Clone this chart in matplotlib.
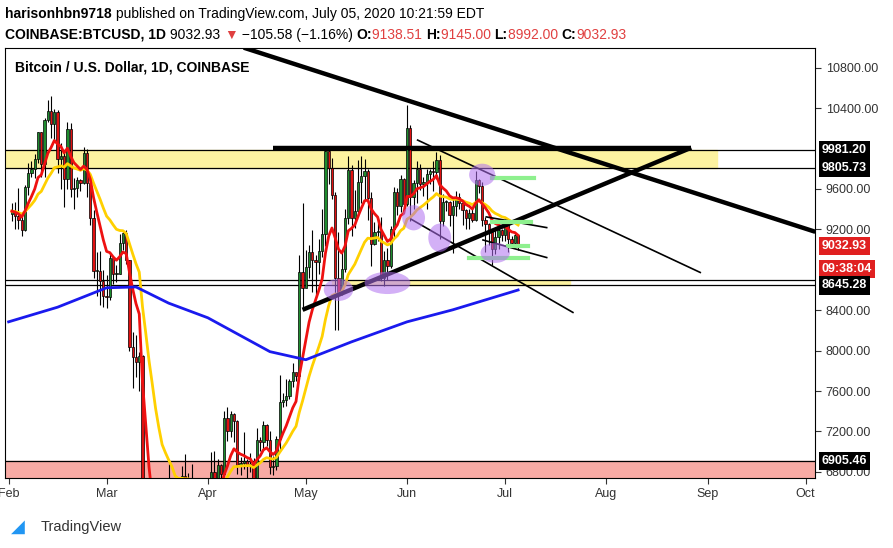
import numpy as np
import pandas as pd
import matplotlib
matplotlib.use("Agg")
import matplotlib.pyplot as plt
import matplotlib.dates as mdates
from matplotlib.patches import Ellipse, Rectangle

plt.rcParams['font.family'] = ['Liberation Sans Narrow', 'Liberation Sans', 'DejaVu Sans']

# daily closes / highs / lows, Feb 1 - Jul 5 2020
closes = [9380, 9330, 9290, 9190, 9620, 9760, 9800, 9900, 10160, 9850, 10280, 10370, 10240, 10360, 9900, 9930, 9700, 10190, 9600, 9610, 9690, 9660, 9960, 9660, 9310, 8790, 8790, 8690, 8540,
          8530, 8920, 8760, 8760, 9070, 9160, 8900, 8040, 7940, 7890, 7950, 4970, 5570, 5170, 5360, 5030, 5330, 5410, 6190, 6200, 6190, 5830, 6480, 6760, 6680, 6740, 6470, 6240, 5880, 6400, 6440,
          6640, 6800, 6740, 6870, 6780, 7330, 7200, 7370, 7300, 6870, 6890, 6910, 6860, 6880, 6640, 7120, 7100, 7260, 7120, 6850, 6860, 7130, 7490, 7510, 7550, 7700, 7790, 7750, 8780, 8620,
          8830, 8980, 8900, 8880, 8990, 9150, 9980, 9810, 9540, 8720, 8560, 8810, 9310, 9790, 9310, 9380, 9670, 9730, 9780, 9510, 9060, 9170, 9180, 8720, 8900, 8840, 9200, 9570, 9430, 9700, 9450,
          10200, 9520, 9660, 9800, 9650, 9670, 9750, 9780, 9770, 9890, 9280, 9470, 9470, 9340, 9430, 9520, 9460, 9390, 9310, 9360, 9290, 9690, 9630, 9290, 9250, 9170, 9010, 9120, 9190, 9140,
          9240, 9100, 9070, 9140, 9033]
highs = [9460, 9470, 9610, 9350, 9640, 9860, 9880, 9950, 10160, 10160, 10300, 10480, 10520, 10390, 10380, 10050, 9960, 10260, 10250, 9710, 9720, 9700, 10020, 10000, 9680, 9390, 8980, 8990, 8800,
         8750, 8960, 8900, 8850, 9150, 9180, 9190, 8900, 8180, 8150, 7990, 7960, 5950, 5650, 5950, 5380, 5560, 5450, 6390, 6880, 6450, 6420, 6600, 6860, 6980, 6790, 6880, 6500, 6260, 6600, 6530,
         6740, 7000, 7010, 6930, 6880, 7400, 7440, 7400, 7380, 7310, 6950, 7190, 6930, 6990, 6940, 7230, 7150, 7300, 7270, 7200, 6960, 7160, 7760, 7580, 7720, 7720, 7880, 7780, 8950, 9460,
         9000, 9050, 9190, 8950, 9100, 9400, 9990, 10020, 9910, 9570, 9170, 8980, 9400, 9930, 9840, 9590, 9890, 9930, 9900, 9800, 9570, 9270, 9310, 9320, 8990, 9020, 9230, 9620, 9610, 9740, 9710,
         10430, 10230, 9690, 9880, 9850, 9720, 9800, 9800, 9880, 9970, 9940, 9550, 9490, 9480, 9500, 9580, 9560, 9480, 9400, 9400, 9420, 9780, 9700, 9670, 9320, 9260, 9190, 9200, 9230, 9200,
         9300, 9270, 9130, 9170, 9145]
lows = [9280, 9200, 9200, 9130, 9180, 9540, 9720, 9710, 9860, 9720, 9720, 10260, 10100, 10080, 9760, 9600, 9420, 9600, 9520, 9400, 9520, 9580, 9650, 9520, 9240, 8720, 8540, 8450, 8430,
        8420, 8500, 8660, 8680, 8760, 9000, 8860, 8000, 7630, 7740, 7600, 4600, 3850, 5090, 5100, 4450, 5020, 5080, 5260, 5810, 5860, 5750, 5700, 6380, 6530, 6560, 6300, 5880, 5860, 5900, 6330,
        6170, 6580, 6690, 6710, 6680, 6770, 7110, 7150, 7100, 6780, 6770, 6830, 6560, 6800, 6620, 6560, 7010, 7020, 7060, 6780, 6770, 6820, 7010, 7440, 7450, 7520, 7640, 7700, 7720, 8400,
        8630, 8720, 8580, 8550, 8760, 8930, 9040, 9650, 9500, 8200, 8200, 8550, 8780, 9250, 9130, 9210, 9320, 9460, 9480, 9290, 8840, 9050, 9080, 8690, 8640, 8700, 8820, 9100, 9340, 9370, 9400,
        9430, 9280, 9400, 9460, 9590, 9530, 9400, 9650, 9580, 9700, 9100, 9230, 9380, 9230, 8970, 9330, 9400, 9240, 9200, 9200, 9270, 9280, 9560, 9230, 8980, 9050, 8850, 8960, 9010, 9080,
        9080, 8980, 9050, 9060, 8992]
first_open = 9350

# slow moving average
slow_dates = ['2020-01-31', '2020-02-15', '2020-03-01', '2020-03-10', '2020-03-20', '2020-04-01', '2020-04-20', '2020-05-01', '2020-05-15', '2020-06-01', '2020-06-15', '2020-07-05']
slow_vals = [8285, 8430, 8622, 8630, 8470, 8325, 7990, 7910, 8087, 8285, 8404, 8600]

# drawings (date, price)
trend_lines = [
    (('2020-04-12', 10998), ('2020-10-04', 9176), 3.2),
    (('2020-04-21', 10008), ('2020-08-27', 10008), 3.2),
    (('2020-04-30', 8404), ('2020-08-27', 10008), 3.2),
    (('2020-06-04', 10087), ('2020-08-30', 8770), 1.2),
    (('2020-06-02', 9305), ('2020-07-22', 8374), 1.2),
    (('2020-06-25', 9325), ('2020-07-14', 9216), 1.2),
    (('2020-06-24', 9097), ('2020-07-14', 8919), 1.2),
]
green_lines = [('2020-06-27', '2020-07-10', 9711), ('2020-06-27', '2020-07-09', 9275),
               ('2020-07-02', '2020-07-08', 9033), ('2020-06-20', '2020-07-08', 8919)]
circles = [('2020-05-11', 8602, 9, 220), ('2020-05-26', 8670, 14, 220), ('2020-06-03', 9315, 7, 250),
           ('2020-06-11', 9117, 7, 280), ('2020-06-24', 9740, 8, 220), ('2020-06-28', 8968, 9, 200)]

# 10000 and 8800 are hidden behind the price boxes in the original
price_ticks = [6800, 7200, 7600, 8000, 8400, 9200, 9600, 10400, 10800]
month_ticks = ['2020-01-31', '2020-03-01', '2020-04-01', '2020-05-01', '2020-06-01', '2020-07-01', '2020-08-01', '2020-09-01', '2020-10-01']
month_labels = ['Feb', 'Mar', 'Apr', 'May', 'Jun', 'Jul', 'Aug', 'Sep', 'Oct']
levels = [(9981.20, '9981.20'), (9805.73, '9805.73'), (8700, None),
          (8645.28, '8645.28'), (6905.46, '6905.46')]

dates = pd.date_range('2020-02-01', periods=len(closes), freq='D')
x = mdates.date2num(dates)
c = np.array(closes, float)
o = np.concatenate([[first_open], c[:-1]])
h = np.array(highs, float)
l = np.array(lows, float)
s = pd.Series(c)
ema_fast = s.ewm(span=9, adjust=False).mean()
ema_slow = s.ewm(span=21, adjust=False).mean()

fig = plt.figure(figsize=(8.93, 5.48), dpi=100)
ax = fig.add_axes([0.006, 0.128, 0.907, 0.785])
d = lambda t: mdates.date2num(pd.Timestamp(t))

ax.set_xlim(d('2020-01-30'), d('2020-10-04'))
ax.set_ylim(6741, 10998)

# zones
ax.axhspan(9806, 9990, xmin=0, xmax=(d('2020-09-04') - d('2020-01-30')) / (d('2020-10-04') - d('2020-01-30')),
           color='#fdf3a0', zorder=0)
ax.fill_between([d('2020-05-09'), d('2020-07-21')], 8645, 8700, color='#fdf3a0', zorder=0)
ax.axhspan(6741, 6905, color='#f8aaa4', zorder=0)
for lv, _ in levels:
    ax.axhline(lv, color='black', lw=0.9, zorder=1)

# candles
for xi, oi, hi, li, ci in zip(x, o, h, l, c):
    ax.vlines(xi, li, hi, color='black', lw=0.8, zorder=2)
    col = '#1e8c2e' if ci >= oi else '#e01010'
    ax.add_patch(Rectangle((xi - 0.35, min(oi, ci)), 0.7, max(abs(ci - oi), 8),
                           facecolor=col, edgecolor='black', lw=0.5, zorder=3))

ax.plot(x, ema_slow, color='#ffd000', lw=2, zorder=4)
ax.plot(x, ema_fast, color='#ee1111', lw=2, zorder=4)
ax.plot(mdates.date2num(pd.to_datetime(slow_dates)), slow_vals, color='#1a1aee', lw=2, zorder=4)

for (d0, p0), (d1, p1), w in trend_lines:
    ax.plot([d(d0), d(d1)], [p0, p1], color='black', lw=w, zorder=5, solid_capstyle='butt')
for d0, d1, p in green_lines:
    ax.plot([d(d0), d(d1)], [p, p], color='#8ef08e', lw=3, zorder=5)
for t, p, w, hh in circles:
    ax.add_patch(Ellipse((d(t), p), w, hh, color='#b070f0', alpha=0.55, lw=0, zorder=6))

ax.xaxis.set_ticks(mdates.date2num(pd.to_datetime(month_ticks)))
ax.set_xticklabels(month_labels)
ax.yaxis.tick_right()
ax.set_yticks(price_ticks)
ax.set_yticklabels(['%.2f' % p for p in price_ticks])
ax.tick_params(labelsize=9, colors='#333333', length=4)
for sp in ax.spines.values():
    sp.set_color('black')
    sp.set_linewidth(0.8)

ytr = ax.get_yaxis_transform()
for lv, lab in levels:
    if lab:
        ax.text(1.008, lv, lab, transform=ytr, fontsize=9, fontweight='bold',
                color='white', va='center', ha='left',
                bbox=dict(boxstyle='square,pad=0.25', fc='black', ec='none'), zorder=10)
ax.text(1.008, 9032.93, '9032.93', transform=ytr, fontsize=9, fontweight='bold',
        color='white', va='center', ha='left', bbox=dict(boxstyle='square,pad=0.25', fc='#e02020', ec='none'))
ax.text(1.008, 8810, '09:38:04', transform=ytr, fontsize=9, fontweight='bold',
        color='white', va='center', ha='left', bbox=dict(boxstyle='square,pad=0.25', fc='#e02020', ec='none'))

ax.text(0.012, 0.955, 'Bitcoin / U.S. Dollar, 1D, COINBASE', transform=ax.transAxes, fontsize=10,
        fontweight='bold', va='center')


def text_run(parts, ypos, size):
    fig.canvas.draw()
    r = fig.canvas.get_renderer()
    xpos = 0.006
    for txt, col, wt in parts:
        t = fig.text(xpos, ypos, txt, fontsize=size, color=col, fontweight=wt, va='center')
        xpos += t.get_window_extent(renderer=r).width / fig.bbox.width


text_run([('harisonhbn9718 ', 'black', 'bold'),
          ('published on TradingView.com, July 05, 2020 10:21:59 EDT', 'black', 'normal')], 0.975, 10)
text_run([('COINBASE:BTCUSD, 1D ', 'black', 'bold'), ('9032.93 ', 'black', 'normal'), ('\u25bc', '#e04040', 'normal'),
          (' \u2212105.58 (\u22121.16%) ', 'black', 'normal'), ('O:', 'black', 'bold'), ('9138.51 ', '#e04040', 'normal'),
          ('H:', 'black', 'bold'), ('9145.00 ', '#e04040', 'normal'), ('L:', 'black', 'bold'),
          ('8992.00 ', '#e04040', 'normal'), ('C:', 'black', 'bold'), ('9032.93', '#e04040', 'normal')], 0.937, 10)

fig.text(0.045, 0.038, 'TradingView', fontsize=10.5, color='#333333', va='center')
fig.text(0.012, 0.038, '\u25e2', fontsize=13, color='#2196f3', va='center')

fig.savefig('out.png', dpi=100)
